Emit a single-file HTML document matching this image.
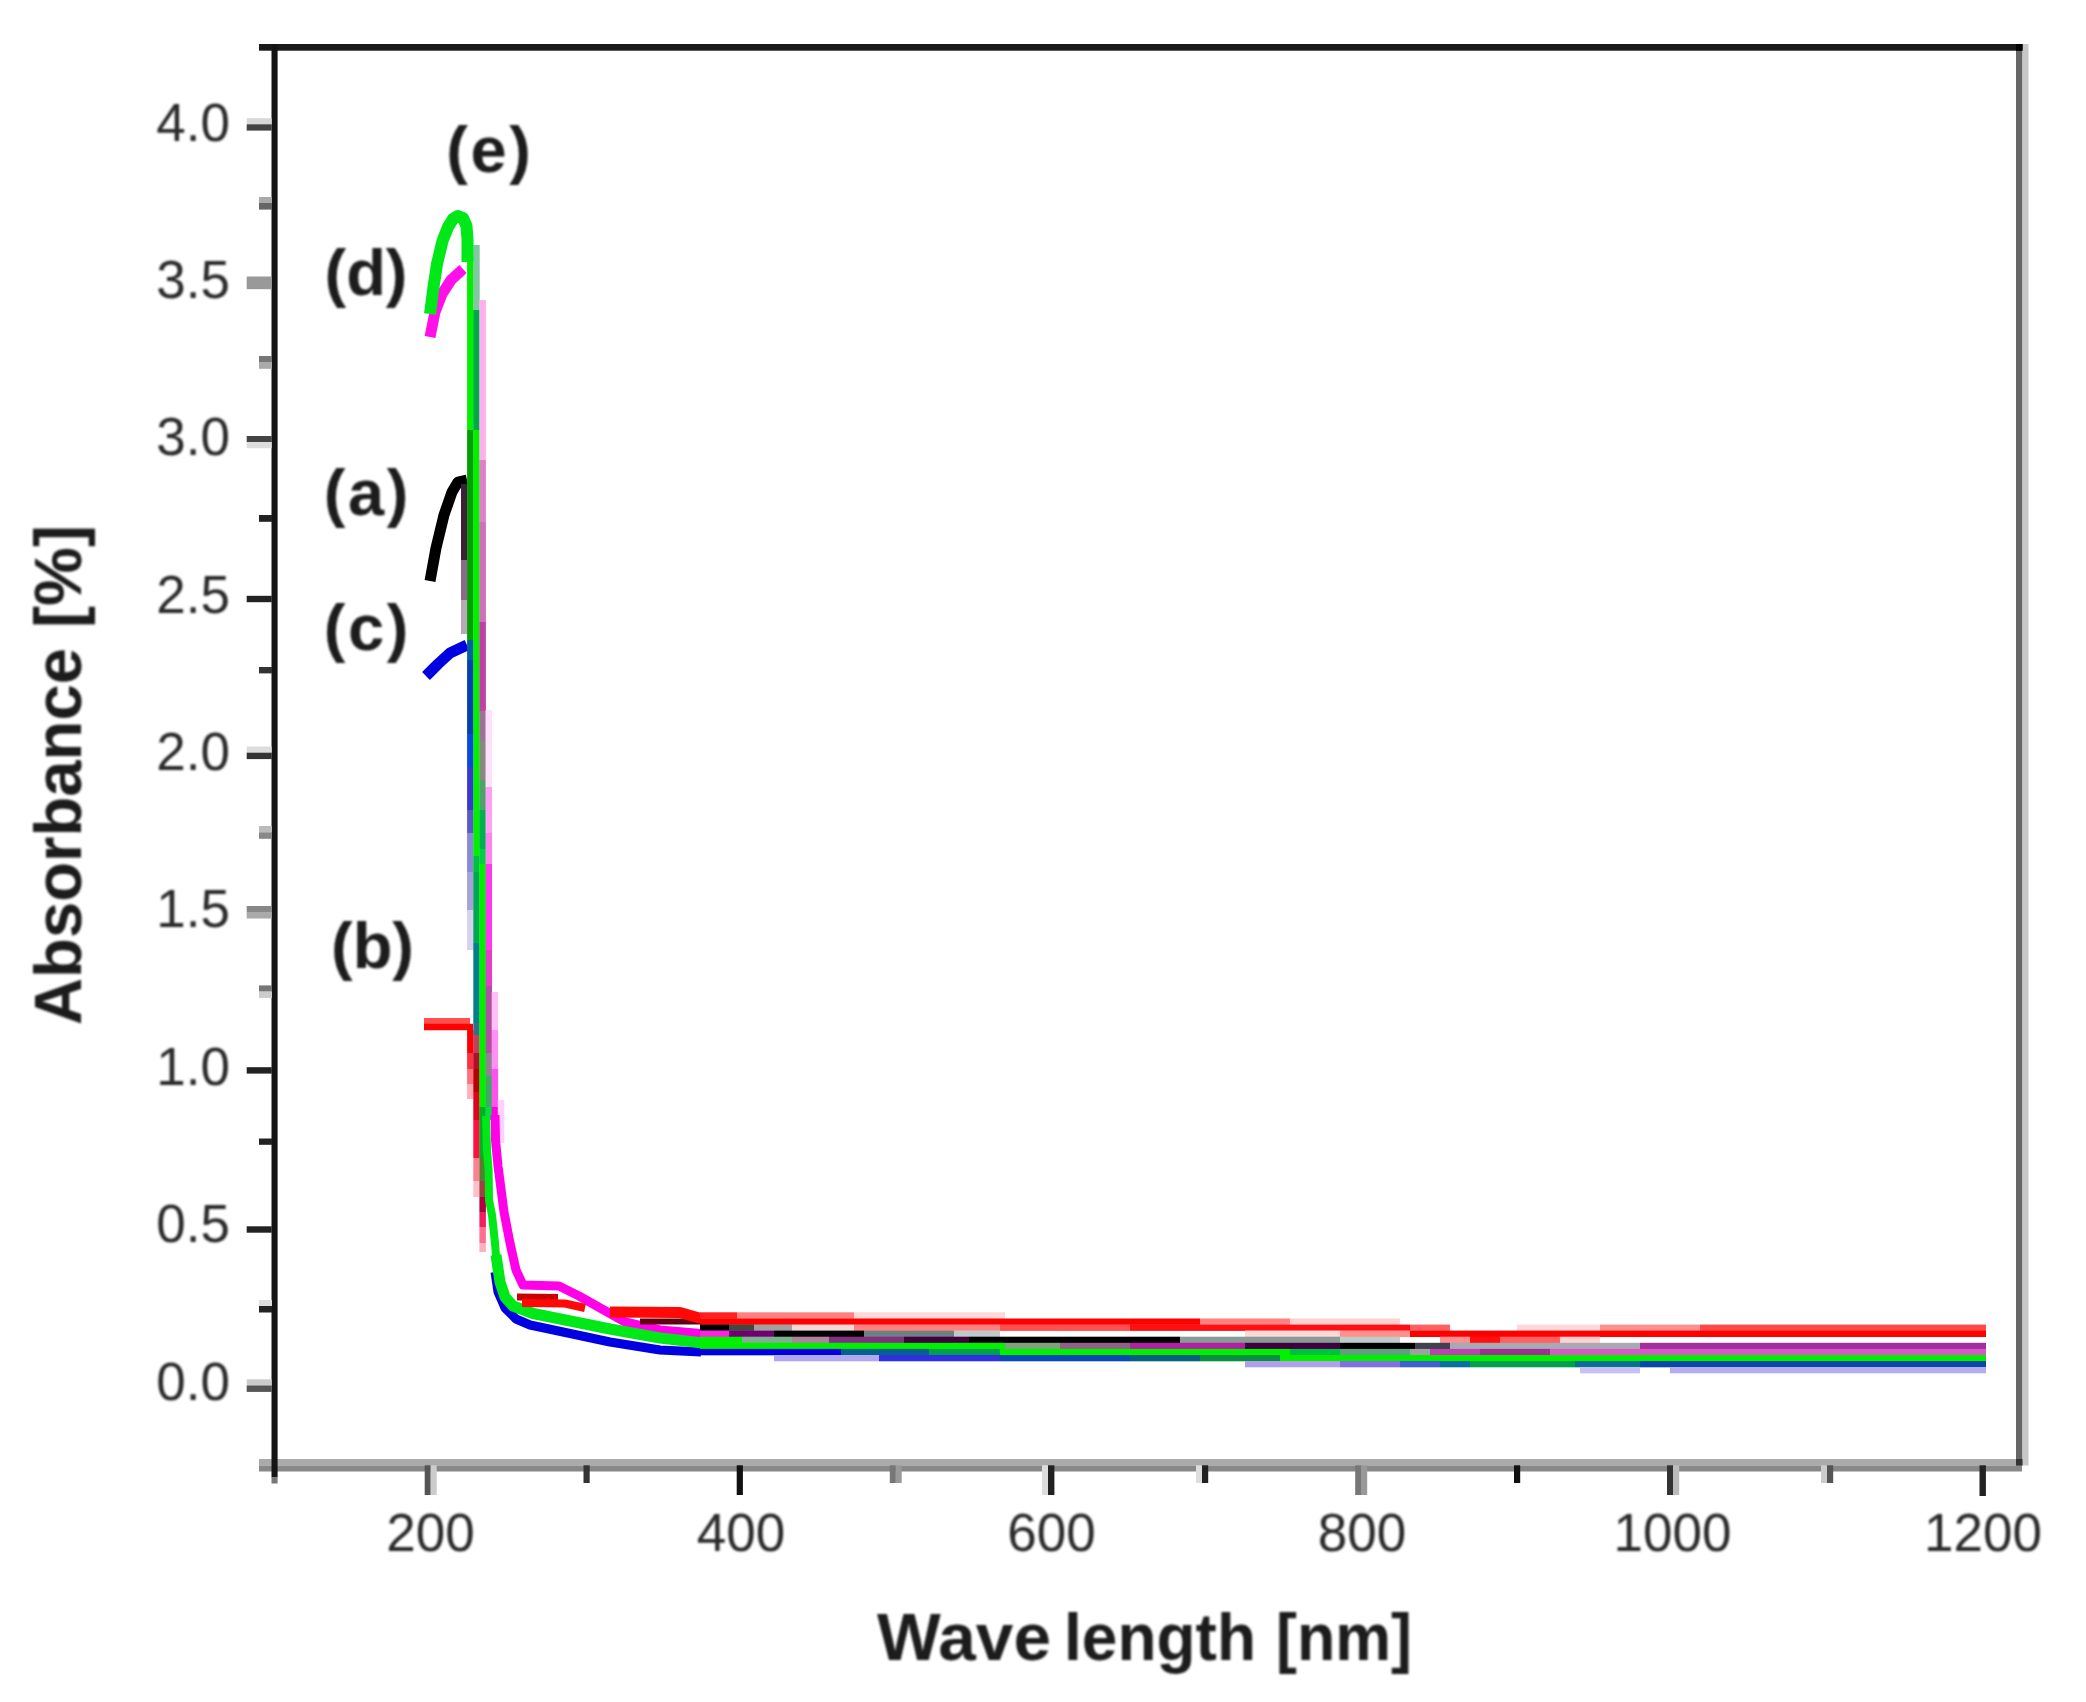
<!DOCTYPE html>
<html lang="en"><head><meta charset="utf-8"><title>Absorbance vs Wave length</title>
<style>
html,body{margin:0;padding:0;background:#fff;}
body{width:2086px;height:1702px;overflow:hidden;}
svg{display:block;}
text{font-family:"Liberation Sans",Arial,sans-serif;}
.tl{font-size:53px;fill:#2a2a2a;}
.bl{font-size:65px;font-weight:bold;fill:#1c1c1c;}
.cv{fill:none;stroke-linejoin:round;stroke-linecap:butt;}
</style></head><body>
<svg width="2086" height="1702" viewBox="0 0 2086 1702">
<defs><filter id="soft" x="-5%" y="-5%" width="110%" height="110%"><feGaussianBlur stdDeviation="1.1"/></filter></defs>
<rect x="0" y="0" width="2086" height="1702" fill="#ffffff"/>

<g id="curves">
<polyline class="cv" stroke="#000" stroke-width="11" points="430,581 436,548 444,515 452,492 458,482 467,480" />
<polyline class="cv" stroke="#0000e0" stroke-width="11" points="426,676 438,664 450,653 467,645" />
<polyline class="cv" stroke="#ff5050" stroke-width="6" points="424,1021 470,1021" />
<polyline class="cv" stroke="#ff0000" stroke-width="6.5" points="424,1027 473,1027" />
<polyline class="cv" stroke="#ff10e8" stroke-width="11" points="430,337 435,312 442,294 451,280 463,269" />
<rect x="461" y="484" width="6.4" height="76" fill="#3a2038"/>
<rect x="461" y="560" width="6.4" height="40" fill="#8a6a88"/>
<rect x="461" y="600" width="6.4" height="34" fill="#b8a8b8"/>
<rect x="467.1" y="255" width="6.5" height="175" fill="#00f000"/>
<rect x="467.1" y="430" width="6.5" height="210" fill="#00a000"/>
<rect x="467.1" y="640" width="6.5" height="20" fill="#0060a0"/>
<rect x="467.1" y="660" width="6.5" height="74" fill="#0040b0"/>
<rect x="467.1" y="734" width="6.5" height="33" fill="#0848e0"/>
<rect x="467.1" y="767" width="6.5" height="43" fill="#3838d0"/>
<rect x="467.1" y="810" width="6.5" height="23" fill="#5858c8"/>
<rect x="467.1" y="833" width="6.5" height="39" fill="#8888d8"/>
<rect x="467.1" y="872" width="6.5" height="38" fill="#a8a0dc"/>
<rect x="467.1" y="910" width="6.5" height="40" fill="#d8d0f0"/>
<rect x="467.1" y="1030" width="6.5" height="23" fill="#ff0000"/>
<rect x="467.1" y="1053" width="6.5" height="16" fill="#ff3040"/>
<rect x="467.1" y="1069" width="6.5" height="15" fill="#ff7080"/>
<rect x="467.1" y="1084" width="6.5" height="15" fill="#ffb0b8"/>
<rect x="473.3" y="245" width="6.4" height="65" fill="#80c8a0"/>
<rect x="473.3" y="310" width="6.4" height="120" fill="#00a848"/>
<rect x="473.3" y="430" width="6.4" height="426" fill="#00f000"/>
<rect x="473.3" y="856" width="6.4" height="16" fill="#00c040"/>
<rect x="473.3" y="872" width="6.4" height="71" fill="#00a850"/>
<rect x="473.3" y="943" width="6.4" height="80" fill="#008088"/>
<rect x="473.3" y="1023" width="6.4" height="12" fill="#307090"/>
<rect x="473.3" y="1035" width="6.4" height="18" fill="#c04060"/>
<rect x="473.3" y="1053" width="6.4" height="16" fill="#b01030"/>
<rect x="473.3" y="1069" width="6.4" height="23" fill="#b80000"/>
<rect x="473.3" y="1092" width="6.4" height="28" fill="#e00020"/>
<rect x="473.3" y="1120" width="6.4" height="38" fill="#ff1040"/>
<rect x="473.3" y="1158" width="6.4" height="23" fill="#ff8090"/>
<rect x="473.3" y="1181" width="6.4" height="16" fill="#ffc0c8"/>
<rect x="479.4" y="300" width="6.5" height="160" fill="#ffb0f0"/>
<rect x="479.4" y="460" width="6.5" height="62" fill="#e080c8"/>
<rect x="479.4" y="522" width="6.5" height="100" fill="#d070b8"/>
<rect x="479.4" y="622" width="6.5" height="89" fill="#c040a8"/>
<rect x="479.4" y="711" width="6.5" height="30" fill="#a07098"/>
<rect x="479.4" y="741" width="6.5" height="39" fill="#888880"/>
<rect x="479.4" y="780" width="6.5" height="30" fill="#50a070"/>
<rect x="479.4" y="810" width="6.5" height="39" fill="#00b050"/>
<rect x="479.4" y="849" width="6.5" height="15" fill="#00d040"/>
<rect x="479.4" y="864" width="6.5" height="243" fill="#00f000"/>
<rect x="479.4" y="1107" width="6.5" height="51" fill="#00b020"/>
<rect x="479.4" y="1158" width="6.5" height="23" fill="#508030"/>
<rect x="479.4" y="1181" width="6.5" height="16" fill="#a04040"/>
<rect x="479.4" y="1197" width="6.5" height="15" fill="#b00040"/>
<rect x="479.4" y="1212" width="6.5" height="15" fill="#f02060"/>
<rect x="479.4" y="1227" width="6.5" height="16" fill="#ff7090"/>
<rect x="479.4" y="1243" width="6.5" height="9" fill="#ffb0c0"/>
<rect x="485.6" y="710" width="6.4" height="77" fill="#ffe0fc"/>
<rect x="485.6" y="787" width="6.4" height="46" fill="#ffa0f4"/>
<rect x="485.6" y="833" width="6.4" height="31" fill="#ff80f0"/>
<rect x="485.6" y="864" width="6.4" height="86" fill="#ff38f0"/>
<rect x="485.6" y="950" width="6.4" height="36" fill="#e040c8"/>
<rect x="485.6" y="986" width="6.4" height="67" fill="#b050a0"/>
<rect x="485.6" y="1053" width="6.4" height="23" fill="#908090"/>
<rect x="485.6" y="1076" width="6.4" height="31" fill="#40a860"/>
<rect x="485.6" y="1107" width="6.4" height="13" fill="#00e040"/>
<rect x="491.7" y="992" width="6.4" height="38" fill="#ffc0f8"/>
<rect x="491.7" y="1030" width="6.4" height="39" fill="#ff90f4"/>
<rect x="491.7" y="1069" width="6.4" height="38" fill="#ff50f0"/>
<rect x="491.7" y="1107" width="6.4" height="13" fill="#ff00e0"/>
<rect x="497.8" y="1100" width="6.5" height="43" fill="#ffd0fc"/>
<polyline class="cv" stroke="#00e818" stroke-width="12" points="430,314 433.5,287 437,264 442.5,241 448,227 453,219 458,216 463,218 466.5,226 467.5,240 467.5,262" />
<polyline class="cv" stroke="#ff00e8" stroke-width="9" points="495,1115 495.5,1140 498,1166 504,1212 510,1243 516,1270 523,1285 559,1286 579,1296 602,1309 625,1322 660,1330 701,1333.6" />
<polyline class="cv" stroke="#600010" stroke-width="6" points="640,1321.5 700,1321.5" />
<polyline class="cv" stroke="#0000e0" stroke-width="9" points="495,1272 498,1292 505,1308 516,1319 530,1325 549,1329 610,1342 660,1350 701,1352" />
<polyline class="cv" stroke="#00e818" stroke-width="8" points="486,1116 487,1150 488.6,1170 489,1200 492,1215 495,1243 496.5,1262" />
<polyline class="cv" stroke="#00e818" stroke-width="11" points="496,1255 500,1282 505,1297 513,1306 533,1313.5 610,1329 660,1338 701,1342.8" />
<polyline class="cv" stroke="#c80000" stroke-width="7" points="517,1297 558,1297.5" />
<polyline class="cv" stroke="#ff0808" stroke-width="8" points="522,1303 565,1303.5 585,1308" />
<polyline class="cv" stroke="#ff0808" stroke-width="11" points="610,1312 680,1312.5 701,1318.5" />
<rect x="700" y="1312.3" width="37" height="6.5" fill="#ff2020"/>
<rect x="737" y="1312.3" width="117" height="6.5" fill="#ff8080"/>
<rect x="854" y="1312.3" width="151" height="6.5" fill="#ffd8d8"/>
<rect x="700" y="1318.5" width="500" height="6.4" fill="#ff0000"/>
<rect x="1200" y="1318.5" width="90" height="6.4" fill="#ff8080"/>
<rect x="1290" y="1318.5" width="110" height="6.4" fill="#ffd0d0"/>
<rect x="700" y="1324.6" width="29" height="6.3" fill="#000000"/>
<rect x="729" y="1324.6" width="25" height="6.3" fill="#404840"/>
<rect x="754" y="1324.6" width="38" height="6.3" fill="#a0a0a0"/>
<rect x="792" y="1324.6" width="62" height="6.3" fill="#f4d8d8"/>
<rect x="854" y="1324.6" width="146" height="6.3" fill="#ff8080"/>
<rect x="1000" y="1324.6" width="130" height="6.3" fill="#ff5050"/>
<rect x="1130" y="1324.6" width="280" height="6.3" fill="#ff1010"/>
<rect x="1410" y="1324.6" width="40" height="6.3" fill="#ff6060"/>
<rect x="1517" y="1324.6" width="83" height="6.3" fill="#ffd8d8"/>
<rect x="1600" y="1324.6" width="100" height="6.3" fill="#ff9090"/>
<rect x="1700" y="1324.6" width="286" height="6.3" fill="#ff4848"/>
<rect x="700" y="1330.6" width="29" height="6.4" fill="#ff20e0"/>
<rect x="729" y="1330.6" width="45" height="6.4" fill="#700070"/>
<rect x="774" y="1330.6" width="90" height="6.4" fill="#000000"/>
<rect x="864" y="1330.6" width="90" height="6.4" fill="#708080"/>
<rect x="954" y="1330.6" width="46" height="6.4" fill="#c0c8c8"/>
<rect x="1245" y="1330.6" width="95" height="6.4" fill="#ffd8d8"/>
<rect x="1340" y="1330.6" width="70" height="6.4" fill="#ff9090"/>
<rect x="1410" y="1330.6" width="576" height="6.4" fill="#ff0000"/>
<rect x="700" y="1336.7" width="42" height="6.4" fill="#00f000"/>
<rect x="742" y="1336.7" width="50" height="6.4" fill="#80b090"/>
<rect x="792" y="1336.7" width="37" height="6.4" fill="#b080a0"/>
<rect x="829" y="1336.7" width="75" height="6.4" fill="#803080"/>
<rect x="904" y="1336.7" width="65" height="6.4" fill="#400040"/>
<rect x="969" y="1336.7" width="211" height="6.4" fill="#000000"/>
<rect x="1180" y="1336.7" width="160" height="6.4" fill="#8a9a96"/>
<rect x="1340" y="1336.7" width="60" height="6.4" fill="#c0ccc8"/>
<rect x="1440" y="1336.7" width="30" height="6.4" fill="#ff9090"/>
<rect x="1470" y="1336.7" width="30" height="6.4" fill="#ff1010"/>
<rect x="1500" y="1336.7" width="60" height="6.4" fill="#ff6060"/>
<rect x="1560" y="1336.7" width="40" height="6.4" fill="#ffd0d0"/>
<rect x="700" y="1342.8" width="305" height="6.4" fill="#00f000"/>
<rect x="1005" y="1342.8" width="55" height="6.4" fill="#80a080"/>
<rect x="1060" y="1342.8" width="70" height="6.4" fill="#906088"/>
<rect x="1130" y="1342.8" width="115" height="6.4" fill="#b020a0"/>
<rect x="1245" y="1342.8" width="95" height="6.4" fill="#400040"/>
<rect x="1340" y="1342.8" width="75" height="6.4" fill="#000000"/>
<rect x="1415" y="1342.8" width="35" height="6.4" fill="#404050"/>
<rect x="1450" y="1342.8" width="190" height="6.4" fill="#a9a9b4"/>
<rect x="1640" y="1342.8" width="346" height="6.4" fill="#a030a0"/>
<rect x="700" y="1348.9" width="141" height="6.4" fill="#0000e0"/>
<rect x="841" y="1348.9" width="88" height="6.4" fill="#086090"/>
<rect x="929" y="1348.9" width="71" height="6.4" fill="#00a050"/>
<rect x="1000" y="1348.9" width="290" height="6.4" fill="#00f000"/>
<rect x="1290" y="1348.9" width="50" height="6.4" fill="#00c040"/>
<rect x="1340" y="1348.9" width="70" height="6.4" fill="#60a080"/>
<rect x="1410" y="1348.9" width="20" height="6.4" fill="#a0a0a0"/>
<rect x="1430" y="1348.9" width="50" height="6.4" fill="#c040b0"/>
<rect x="1480" y="1348.9" width="70" height="6.4" fill="#a03090"/>
<rect x="1550" y="1348.9" width="436" height="6.4" fill="#d858c4"/>
<rect x="774" y="1355" width="105" height="6.3" fill="#b0a8f0"/>
<rect x="879" y="1355" width="121" height="6.3" fill="#3030e0"/>
<rect x="1000" y="1355" width="130" height="6.3" fill="#0848b0"/>
<rect x="1130" y="1355" width="70" height="6.3" fill="#086080"/>
<rect x="1200" y="1355" width="80" height="6.3" fill="#089040"/>
<rect x="1280" y="1355" width="706" height="6.3" fill="#00f000"/>
<rect x="1245" y="1361" width="95" height="6.3" fill="#b0a0e8"/>
<rect x="1340" y="1361" width="60" height="6.3" fill="#8070e0"/>
<rect x="1400" y="1361" width="40" height="6.3" fill="#4060d0"/>
<rect x="1440" y="1361" width="30" height="6.3" fill="#0870a0"/>
<rect x="1470" y="1361" width="105" height="6.3" fill="#00a050"/>
<rect x="1575" y="1361" width="65" height="6.3" fill="#087090"/>
<rect x="1640" y="1361" width="346" height="6.3" fill="#0848a8"/>
<rect x="1580" y="1367" width="60" height="6.3" fill="#c8c0f4"/>
<rect x="1670" y="1367" width="316" height="6.3" fill="#b4acf0"/>
</g>
<g id="frame">
<rect x="259" y="1459" width="1763" height="6.5" fill="#aaaaaa"/>
<rect x="259" y="1465.5" width="1763" height="6" fill="#888888"/>
<rect x="2016" y="44" width="6.5" height="1421.5" fill="#666666"/>
<rect x="2022.5" y="44" width="6" height="1421.5" fill="#c8c8c8"/>
<rect x="259" y="44" width="1763.5" height="6.7" fill="#1a1a1a"/>
<rect x="271.5" y="44" width="6.1" height="1433.5" fill="#141414"/>
<rect x="271.5" y="1477.4" width="6.1" height="6.1" fill="#777777"/>
<rect x="2016" y="1459" width="6.5" height="6.5" fill="#333333"/>
<rect x="2016" y="44" width="6.5" height="6.7" fill="#000000"/>
</g>
<g id="ticks">
<rect x="246.7" y="118.2" width="25" height="6.3" fill="#d8d8d8"/>
<rect x="246.7" y="124.3" width="25" height="6.3" fill="#444"/>
<rect x="246.7" y="276.5" width="25" height="12.7" fill="#999"/>
<rect x="246.7" y="436" width="25" height="6.2" fill="#444"/>
<rect x="246.7" y="442" width="25" height="6.2" fill="#ddd"/>
<rect x="246.7" y="595.8" width="25" height="6.4" fill="#222"/>
<rect x="246.7" y="746.5" width="25" height="6.4" fill="#ddd"/>
<rect x="246.7" y="752.7" width="25" height="6.4" fill="#333"/>
<rect x="246.7" y="906" width="25" height="6.2" fill="#888"/>
<rect x="246.7" y="912" width="25" height="6.5" fill="#aaa"/>
<rect x="246.7" y="1067.2" width="25" height="6.4" fill="#222"/>
<rect x="246.7" y="1226.3" width="25" height="6.4" fill="#222"/>
<rect x="246.7" y="1379.3" width="25" height="6.4" fill="#ccc"/>
<rect x="246.7" y="1385.5" width="25" height="6.4" fill="#555"/>
<rect x="259" y="197" width="13" height="6.2" fill="#aaa"/>
<rect x="259" y="203" width="13" height="6.6" fill="#666"/>
<rect x="259" y="356" width="13" height="6.2" fill="#777"/>
<rect x="259" y="362" width="13" height="6.8" fill="#aaa"/>
<rect x="259" y="515" width="13" height="6.8" fill="#222"/>
<rect x="259" y="667" width="13" height="6.4" fill="#333"/>
<rect x="259" y="826" width="13" height="6.6" fill="#bbb"/>
<rect x="259" y="832.4" width="13" height="6.4" fill="#888"/>
<rect x="259" y="985.4" width="13" height="6.3" fill="#777"/>
<rect x="259" y="991.5" width="13" height="6.4" fill="#ccc"/>
<rect x="259" y="1138.5" width="13" height="6.3" fill="#222"/>
<rect x="259" y="1300" width="13" height="6.2" fill="#ddd"/>
<rect x="259" y="1306" width="13" height="6.5" fill="#222"/>
<rect x="424.7" y="1465.3" width="6.1" height="29.7" fill="#555"/>
<rect x="430.6" y="1465.3" width="6.1" height="29.7" fill="#ccc"/>
<rect x="583.5" y="1465.3" width="6.2" height="17.7" fill="#333"/>
<rect x="736.7" y="1465.3" width="6.2" height="29.7" fill="#111"/>
<rect x="889.8" y="1465.3" width="6.1" height="17.7" fill="#777"/>
<rect x="895.7" y="1465.3" width="6.0" height="17.7" fill="#999"/>
<rect x="1042" y="1465.3" width="6.2" height="29.7" fill="#ddd"/>
<rect x="1048" y="1465.3" width="6.4" height="29.7" fill="#222"/>
<rect x="1196" y="1465.3" width="6.2" height="17.7" fill="#ddd"/>
<rect x="1202" y="1465.3" width="6.2" height="17.7" fill="#222"/>
<rect x="1355.2" y="1465.3" width="6.0" height="29.7" fill="#777"/>
<rect x="1361" y="1465.3" width="6.2" height="29.7" fill="#999"/>
<rect x="1514" y="1465.3" width="6.2" height="17.7" fill="#111"/>
<rect x="1667" y="1465.3" width="6.2" height="29.7" fill="#333"/>
<rect x="1673" y="1465.3" width="6.2" height="29.7" fill="#bbb"/>
<rect x="1821" y="1465.3" width="6.2" height="17.7" fill="#ccc"/>
<rect x="1827" y="1465.3" width="6.2" height="17.7" fill="#555"/>
<rect x="1979.5" y="1465.3" width="6.4" height="30.7" fill="#222"/>
</g>
<g id="labels" filter="url(#soft)">
<text class="tl" x="230" y="140.5" text-anchor="end">4.0</text>
<text class="tl" x="230" y="297.9" text-anchor="end">3.5</text>
<text class="tl" x="230" y="455.2" text-anchor="end">3.0</text>
<text class="tl" x="230" y="612.6" text-anchor="end">2.5</text>
<text class="tl" x="230" y="770.0" text-anchor="end">2.0</text>
<text class="tl" x="230" y="927.4" text-anchor="end">1.5</text>
<text class="tl" x="230" y="1084.8" text-anchor="end">1.0</text>
<text class="tl" x="230" y="1242.1" text-anchor="end">0.5</text>
<text class="tl" x="230" y="1399.5" text-anchor="end">0.0</text>
<text class="tl" x="430.5" y="1551" text-anchor="middle">200</text>
<text class="tl" x="741.0" y="1551" text-anchor="middle">400</text>
<text class="tl" x="1051.5" y="1551" text-anchor="middle">600</text>
<text class="tl" x="1362.0" y="1551" text-anchor="middle">800</text>
<text class="tl" x="1672.5" y="1551" text-anchor="middle">1000</text>
<text class="tl" x="1983.0" y="1551" text-anchor="middle">1200</text>
<text class="bl" x="878" y="1660" style="font-size:66px"><tspan x="877" textLength="174" lengthAdjust="spacingAndGlyphs">Wave</tspan> <tspan x="1064" textLength="192" lengthAdjust="spacingAndGlyphs">length</tspan> <tspan x="1276" textLength="136" lengthAdjust="spacingAndGlyphs">[nm]</tspan></text>
<text class="bl" transform="translate(81,1024) rotate(-90)" x="0" y="0" style="font-size:66px"><tspan x="-1" textLength="377" lengthAdjust="spacingAndGlyphs">Absorbance</tspan> <tspan x="396" textLength="103" lengthAdjust="spacingAndGlyphs">[%]</tspan></text>
<text class="bl" x="489.8" y="172" text-anchor="middle" letter-spacing="2.6">(e)</text>
<text class="bl" x="366" y="294.5" text-anchor="middle">(d)</text>
<text class="bl" x="367.3" y="514.5" text-anchor="middle" letter-spacing="2.6">(a)</text>
<text class="bl" x="367.3" y="649.5" text-anchor="middle" letter-spacing="2.6">(c)</text>
<text class="bl" x="372.5" y="967.5" text-anchor="middle">(b)</text>
</g>
</svg>
</body></html>
